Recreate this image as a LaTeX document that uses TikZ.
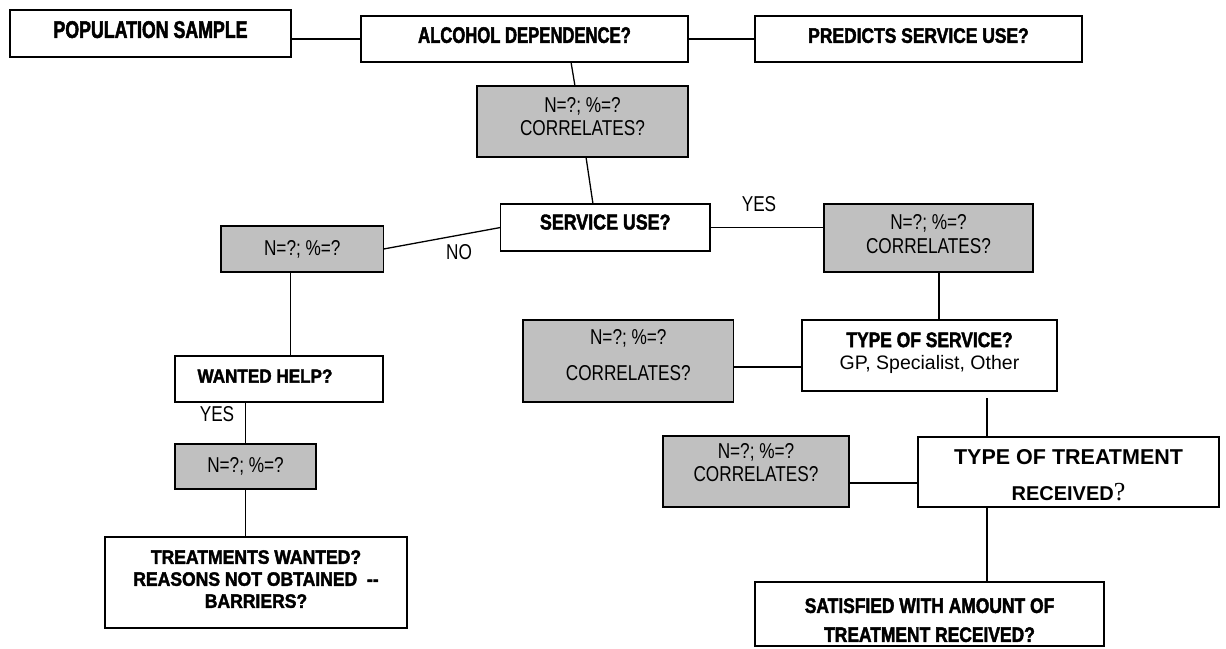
\documentclass[tikz,border=0pt]{standalone}
\usepackage{fontspec}
\setmainfont{Liberation Sans}
\newfontfamily\nboldA{Liberation Sans}[FakeStretch=0.74, FakeBold=2]
\newfontfamily\nboldB{Liberation Sans}[FakeStretch=0.83, FakeBold=2]
\newfontfamily\nboldC{Liberation Sans}[FakeStretch=0.9, FakeBold=2]
\newfontfamily\nreg{Liberation Sans}[FakeStretch=0.8]
\newfontfamily\qserif{Liberation Serif}
\definecolor{boxgray}{RGB}{192,192,192}
\newcommand{\boldtxt}{\nboldB\bfseries\fontsize{21}{24}\selectfont}
\newcommand{\regtxt}{\nreg\fontsize{21.5}{23}\selectfont}
\newcommand{\dep}[1]{\rule[-#1]{0pt}{#1}}
\newcommand{\hgt}[1]{\rule{0pt}{#1}}
\begin{document}
\begin{tikzpicture}[x=1pt,y=-1pt,
  box/.style={draw=black, line width=1.7pt, fill=white, inner sep=0pt, outer sep=0pt, align=center, font=\boldtxt},
  graybox/.style={box, fill=boxgray, font=\regtxt},
  link/.style={line width=1.3pt, draw=black},
  lbl/.style={font=\regtxt, inner sep=0pt}]
\useasboundingbox (0,0) rectangle (1226,648);

% top row
\node[box, minimum width=281pt, minimum height=47pt, font=\nboldA\bfseries\fontsize{24}{24}\selectfont] (pop) at (150.5,33.5) {POPULATION SAMPLE\dep{8pt}};
\node[box, minimum width=327pt, minimum height=46pt, font=\nboldA\bfseries\fontsize{22.5}{24}\selectfont] (alc) at (524.5,39) {ALCOHOL DEPENDENCE?\dep{8pt}};
\node[box, minimum width=327pt, minimum height=46pt] (pred) at (918.5,39) {PREDICTS SERVICE USE?\dep{7pt}};

\node[graybox, minimum width=211pt, minimum height=71pt] (g1) at (582.5,121.5) {N=?; \%=?\\CORRELATES?\dep{10pt}};

\node[box, minimum width=209.5pt, minimum height=47pt, font=\nboldB\bfseries\fontsize{21.5}{24}\selectfont] (svc) at (605.25,227.5) {SERVICE USE?\dep{11pt}};

% NO branch
\node[graybox, minimum width=162.6pt, minimum height=46pt] (gno) at (302.3,249) {N=?; \%=?};
\node[box, minimum width=208pt, minimum height=46pt, font=\nboldC\bfseries\fontsize{19}{22}\selectfont] (want) at (279,379) {WANTED HELP?\hspace*{28pt}\dep{6pt}};
\node[graybox, minimum width=141pt, minimum height=45pt] (g3) at (245.5,466.5) {N=?; \%=?};
\node[box, minimum width=302pt, minimum height=91pt, font=\nboldC\bfseries\fontsize{19.5}{22}\selectfont] (treat) at (256,582.5) {TREATMENTS WANTED?\\REASONS NOT OBTAINED \ --\\BARRIERS?\dep{7pt}};

% YES branch
\node[graybox, minimum width=209pt, minimum height=68pt] (gyes) at (928.5,238) {N=?; \%=?\\[1.5pt]CORRELATES?\dep{8pt}};
\node[graybox, minimum width=210.6pt, minimum height=82pt] (gsvl) at (628.3,361) {N=?; \%=?\\[13pt]CORRELATES?\dep{12pt}};
\node[box, minimum width=255pt, minimum height=71pt, font=\nboldB\bfseries\fontsize{21}{22.5}\selectfont] (tsvc) at (929.5,355.5) {TYPE OF SERVICE?\\{\normalfont\fontsize{19.5}{20}\selectfont GP, Specialist, Other}\dep{9pt}};
\node[graybox, minimum width=186pt, minimum height=71pt] (gtrl) at (756,471.5) {N=?; \%=?\\CORRELATES?\dep{18pt}};
\node[box, minimum width=301pt, minimum height=70pt, font=\normalfont\bfseries\fontsize{21.5}{22}\selectfont] (ttr) at (1068.5,472) {\hgt{21.5pt}TYPE OF TREATMENT\\[14pt]{\fontsize{20}{20}\selectfont RECEIVED}{\qserif\mdseries\fontsize{26}{26}\selectfont ?}};
\node[box, minimum width=349pt, minimum height=64pt] (sat) at (929.5,614) {\hgt{27pt}SATISFIED WITH AMOUNT OF\\[5pt]TREATMENT RECEIVED?};

% labels
\node[lbl] (lno) at (459,252) {NO};
\node[lbl] (lyes1) at (759,204) {YES};
\node[lbl] (lyes2) at (217,414) {YES};

\coordinate (gapstart) at (987,398);

% connectors
\draw[link] (pop.east |- alc.west) -- (alc.west);
\draw[link] (alc.east) -- (pred.west);
\draw[link] (alc.south -| 571,0) -- (g1.north -| 575,0);
\draw[link] (g1.south -| 586,0) -- (svc.north -| 593,0);
\draw[link] (svc.west) -- (gno.east);
\draw[link] (svc.east) -- (gyes.west |- svc.east);
\draw[link] (gno.south -| 290.7,0) -- (want.north -| 290.7,0);
\draw[link] (g3.north |- want.south) -- (g3.north);
\draw[link] (g3.south) -- (treat.north -| g3.south);
\draw[link] (gyes.south -| 939,0) -- (tsvc.north -| 939,0);
\draw[link] (gsvl.east |- 0,367) -- (tsvc.west |- 0,367);
\draw[link] (gapstart) -- (ttr.north -| gapstart);
\draw[link] (gtrl.east |- 0,483) -- (ttr.west |- 0,483);
\draw[link] (ttr.south -| gapstart) -- (sat.north -| gapstart);
\end{tikzpicture}
\end{document}
